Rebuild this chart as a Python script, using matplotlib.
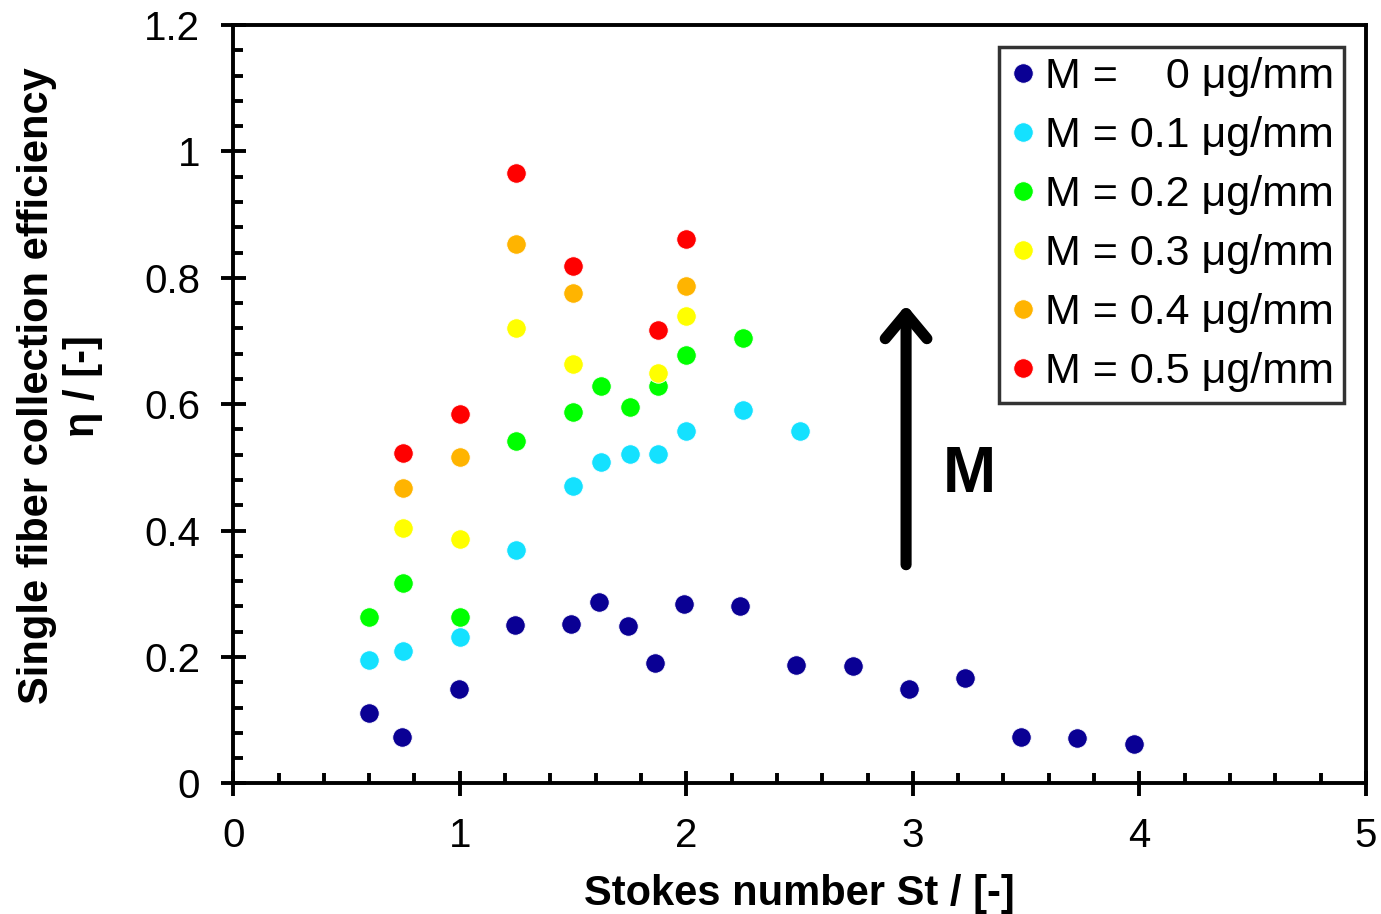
import numpy as np
import matplotlib.pyplot as plt
from matplotlib.ticker import MultipleLocator, FuncFormatter

plt.rcParams['font.family'] = ['Liberation Sans', 'DejaVu Sans']

# Stokes number / efficiency for each loading M
st_0 = [0.600, 0.747, 0.996, 1.243, 1.491, 1.614, 1.741, 1.863, 1.988, 2.236,
        2.485, 2.734, 2.981, 3.229, 3.478, 3.726, 3.974]
eta_0 = [0.111, 0.074, 0.149, 0.250, 0.253, 0.287, 0.249, 0.190, 0.284, 0.281,
         0.187, 0.186, 0.150, 0.167, 0.074, 0.072, 0.062]

st_1 = [0.6, 0.75, 1.0, 1.25, 1.5, 1.625, 1.75, 1.875, 2.0, 2.25, 2.5]
eta_1 = [0.195, 0.209, 0.231, 0.370, 0.470, 0.509, 0.522, 0.521, 0.557, 0.591, 0.557]

st_2 = [0.6, 0.75, 1.0, 1.25, 1.5, 1.625, 1.75, 1.875, 2.0, 2.25]
eta_2 = [0.264, 0.317, 0.263, 0.542, 0.587, 0.629, 0.596, 0.629, 0.678, 0.705]

st_3 = [0.75, 1.0, 1.25, 1.5, 1.875, 2.0]
eta_3 = [0.404, 0.387, 0.720, 0.663, 0.649, 0.740]

st_4 = [0.75, 1.0, 1.25, 1.5, 2.0]
eta_4 = [0.468, 0.516, 0.853, 0.776, 0.787]

st_5 = [0.75, 1.0, 1.25, 1.5, 1.875, 2.0]
eta_5 = [0.523, 0.585, 0.966, 0.818, 0.717, 0.862]

labels = ['M =    0 μg/mm', 'M = 0.1 μg/mm', 'M = 0.2 μg/mm',
          'M = 0.3 μg/mm', 'M = 0.4 μg/mm', 'M = 0.5 μg/mm']
colors = ['#0A0094', '#14E1FF', '#00FF00', '#FFFF00', '#FFB400', '#FF0000']

series = [(st_0, eta_0), (st_1, eta_1), (st_2, eta_2),
          (st_3, eta_3), (st_4, eta_4), (st_5, eta_5)]

fig = plt.figure(figsize=(13.81, 9.14), dpi=100)
ax = fig.add_axes([0.1689, 0.1429, 0.8202, 0.8297])

for (x, y), lab, c in zip(series, labels, colors):
    ax.plot(x, y, 'o', color=c, markersize=14, markeredgecolor='white',
            markeredgewidth=0.6, label=lab)

ax.set_xlim(0, 5)
ax.set_ylim(0, 1.2)
ax.xaxis.set_major_locator(MultipleLocator(1))
ax.xaxis.set_minor_locator(MultipleLocator(0.2))
ax.yaxis.set_major_locator(MultipleLocator(0.2))
ax.yaxis.set_minor_locator(MultipleLocator(0.04))
ax.yaxis.set_major_formatter(FuncFormatter(lambda v, p: '%g' % round(v, 2)))

for s in ax.spines.values():
    s.set_linewidth(2.8)
ax.tick_params(which='major', direction='inout', length=18, width=2.8,
               labelsize=29, pad=15)
ax.tick_params(which='minor', direction='in', length=7, width=2.8)

ax.set_xlabel('Stokes number St / [-]', fontsize=30, fontweight='bold', labelpad=14)
ax.set_ylabel('Single fiber collection efficiency\nη / [-]', fontsize=30,
              fontweight='bold', linespacing=1.2)
ax.yaxis.set_label_coords(-0.115, 0.524)

leg = ax.legend(loc='upper right', fontsize=31, frameon=True, fancybox=False,
                handlelength=0.6, handletextpad=0.2, labelspacing=0.44,
                borderpad=0.25, borderaxespad=0.5)
leg.get_frame().set_edgecolor('black')
leg.get_frame().set_linewidth(2.5)

ax.annotate('', xy=(2.97, 0.757), xytext=(2.97, 0.346),
            arrowprops=dict(arrowstyle='->,head_length=1.8,head_width=1.5',
                            lw=8, color='black', capstyle='round',
                            joinstyle='round', shrinkA=0, shrinkB=0))
ax.text(3.25, 0.488, 'M', fontsize=46, fontweight='bold', ha='center', va='center')

fig.savefig('out.png', dpi=100)
